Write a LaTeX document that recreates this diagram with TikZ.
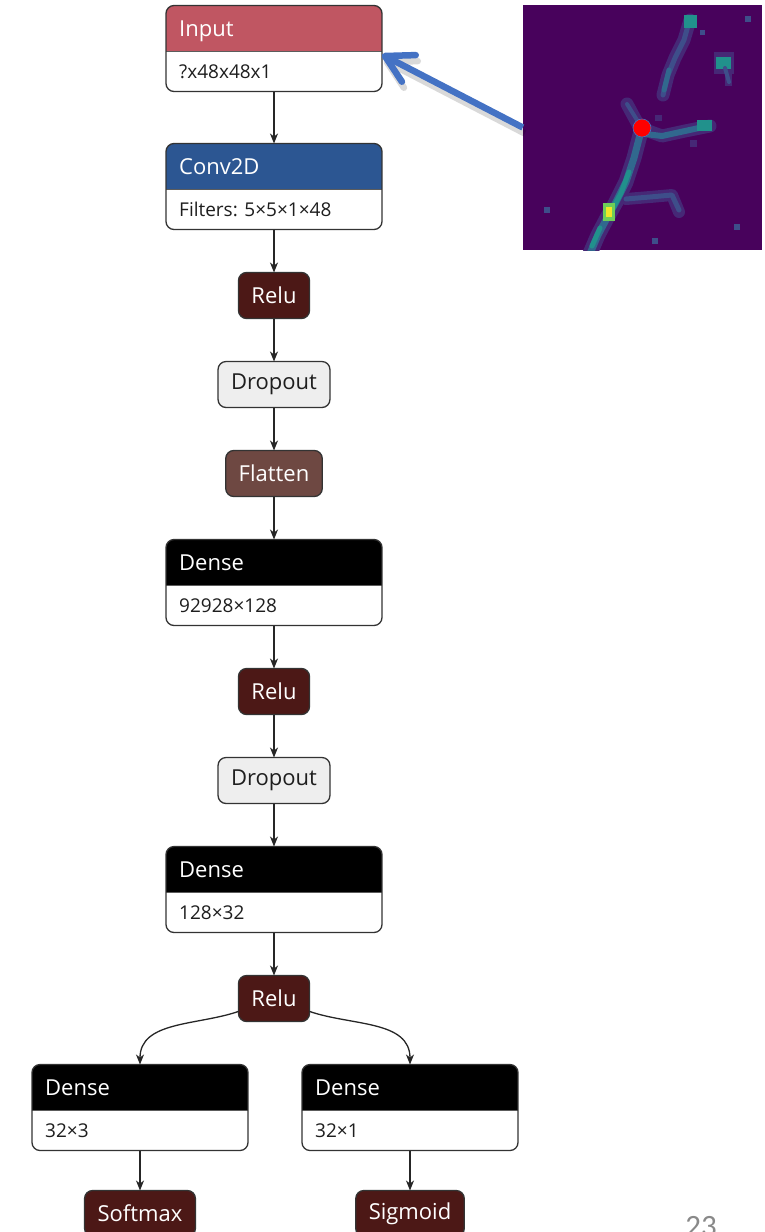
\documentclass[tikz,border=0pt]{standalone}
\usepackage{fontspec}
\setmainfont{Open Sans}
\newfontfamily\slidefont{Carlito}
\usetikzlibrary{arrows.meta,positioning}

\definecolor{inputred}{RGB}{192,86,98}
\definecolor{convblue}{RGB}{44,86,146}
\definecolor{relubrown}{RGB}{76,24,22}
\definecolor{flatbrown}{RGB}{110,72,66}
\definecolor{dropgray}{RGB}{238,238,238}
\definecolor{edgegray}{RGB}{51,51,51}
\definecolor{textgray}{RGB}{30,30,30}
\definecolor{pointerblue}{RGB}{68,114,196}
\definecolor{numgray}{RGB}{137,137,137}
% viridis shades for the feature map
\definecolor{vbg}{RGB}{72,2,92}
\definecolor{vhalo}{RGB}{70,40,118}
\definecolor{vdim}{RGB}{62,78,138}
\definecolor{vmid}{RGB}{49,104,142}
\definecolor{vteal}{RGB}{33,145,140}
\definecolor{vgreen}{RGB}{110,206,88}
\definecolor{vyellow}{RGB}{240,230,40}

\begin{document}
\begin{tikzpicture}[
    x=1pt, y=1pt,
    node distance=43pt,
    layer/.style={draw=edgegray, line width=1.3pt, rounded corners=8pt, fill=white,
                  minimum width=216pt, minimum height=86pt, inner sep=0pt, outer sep=0pt,
                  path picture={
                    \fill[#1, sharp corners] (path picture bounding box.north west) rectangle
                      ([yshift=-46pt]path picture bounding box.north east);
                    \draw[edgegray!80, line width=0.8pt, sharp corners]
                      ([yshift=-46pt]path picture bounding box.north west) --
                      ([yshift=-46pt]path picture bounding box.north east);}},
    head/.style={anchor=base west, inner sep=0pt, text=white,
                 font=\fontsize{22}{26}\selectfont},
    attr/.style={anchor=base west, inner sep=0pt, text=textgray,
                 font=\fontsize{19}{23}\selectfont},
    op/.style={draw=edgegray, line width=1.3pt, rounded corners=8pt, fill=#1,
               minimum height=46pt, inner xsep=13pt, inner ysep=0pt, outer sep=0pt,
               text=white, font=\fontsize{22}{26}\selectfont},
    arr/.style={-{Stealth[length=10pt,width=8pt,inset=3pt]}, line width=1.3pt, draw=black!85},
    heat/.style={fill=vbg, minimum width=239pt, minimum height=245pt, inner sep=0pt},
    spot/.style={circle, fill=red, draw=pointerblue, line width=0.6pt,
                 minimum size=18pt, inner sep=0pt},
    strand/.style={line width=#1, line cap=round, line join=round},
    pointer/.style={-{Straight Barb[length=27pt,width=30pt,round]}, line width=6.5pt,
                    draw=pointerblue},
    pagenum/.style={anchor=base, text=numgray, font=\slidefont\fontsize{31}{36}\selectfont}
]
\useasboundingbox (0,0) rectangle (765,-1232);

% --- main column ---
\node[layer=inputred] (input) at (274,-48.5) {};
\node[layer=convblue, below=52pt of input] (conv) {};
\node[op=relubrown, below=of conv] (relu1) {Relu};
\node[op=dropgray, text=textgray, below=of relu1] (drop1) {Dropout};
\node[op=flatbrown, below=of drop1] (flat) {Flatten};
\node[layer=black, below=of flat] (dense1) {};
\node[op=relubrown, below=of dense1] (relu2) {Relu};
\node[op=dropgray, text=textgray, below=of relu2] (drop2) {Dropout};
\node[layer=black, below=of drop2] (dense2) {};
\node[op=relubrown, below=of dense2] (relu3) {Relu};

% --- the two heads ---
\node[layer=black, below=of relu3, xshift=-134pt] (dense3) {};
\node[layer=black, below=of relu3, xshift=136pt] (dense4) {};
\node[op=relubrown, below=40pt of dense3] (softmax) {Softmax};
\node[op=relubrown, below=40pt of dense4] (sigmoid) {Sigmoid};

% layer titles and shapes
\node[head] (input-h) at ([xshift=13pt,yshift=-31pt]input.north west) {Input};
\node[attr] (input-a) at ([xshift=13pt,yshift=-73pt]input.north west) {?x48x48x1};
\node[head] (conv-h) at ([xshift=13pt,yshift=-31pt]conv.north west) {Conv2D};
\node[attr] (conv-a) at ([xshift=13pt,yshift=-73pt]conv.north west) {Filters: 5×5×1×48};
\node[head] (dense1-h) at ([xshift=13pt,yshift=-31pt]dense1.north west) {Dense};
\node[attr] (dense1-a) at ([xshift=13pt,yshift=-73pt]dense1.north west) {92928×128};
\node[head] (dense2-h) at ([xshift=13pt,yshift=-31pt]dense2.north west) {Dense};
\node[attr] (dense2-a) at ([xshift=13pt,yshift=-73pt]dense2.north west) {128×32};
\node[head] (dense3-h) at ([xshift=13pt,yshift=-31pt]dense3.north west) {Dense};
\node[attr] (dense3-a) at ([xshift=13pt,yshift=-73pt]dense3.north west) {32×3};
\node[head] (dense4-h) at ([xshift=13pt,yshift=-31pt]dense4.north west) {Dense};
\node[attr] (dense4-a) at ([xshift=13pt,yshift=-73pt]dense4.north west) {32×1};

% arrows
\draw[arr] (input) -- (conv);
\draw[arr] (conv) -- (relu1);
\draw[arr] (relu1) -- (drop1);
\draw[arr] (drop1) -- (flat);
\draw[arr] (flat) -- (dense1);
\draw[arr] (dense1) -- (relu2);
\draw[arr] (relu2) -- (drop2);
\draw[arr] (drop2) -- (dense2);
\draw[arr] (dense2) -- (relu3);
\draw[arr] (relu3.200) to[out=199, in=90] (dense3.north);
\draw[arr] (relu3.340) to[out=-19, in=90] (dense4.north);
\draw[arr] (dense3) -- (softmax);
\draw[arr] (dense4) -- (sigmoid);

% --- sample input patch ---
\node[heat] (patch) at (642.5,-127.5) {};
\begin{scope}
  \clip (patch.south west) rectangle (patch.north east);
  % soft halo under the bright strands
  \draw[strand=13pt, vhalo] (690,-20) -- (684,-40) -- (675,-58) -- (668,-75) -- (663,-95);
  \draw[strand=13pt, vhalo] (627,-104) -- (640,-128) -- (662,-136) -- (685,-131) -- (710,-126);
  \draw[strand=15pt, vhalo] (640,-135) -- (634,-158) -- (626,-182) -- (616,-202)
      -- (607,-218) -- (598,-235) -- (589,-256);
  \draw[strand=12pt, vhalo] (626,-199) -- (650,-197) -- (672,-195) -- (679,-212);
  \fill[vhalo] (714,-52) rectangle (734,-74);
  \fill[vhalo] (725,-68) rectangle (732,-86);
  % upper branch and the two bright blobs
  \draw[strand=5pt, vdim] (689,-22) -- (684,-40) -- (675,-58) -- (668,-75) -- (663,-95);
  \draw[strand=5pt, vmid] (669,-70) -- (664,-90);
  \fill[vteal] (684,-15) rectangle (697,-28);
  \fill[vteal] (716,-57) rectangle (731,-69);
  \draw[strand=4pt, vdim] (725,-68) -- (729,-82);
  % side branch from the marked point
  \draw[strand=4pt, vdim] (627,-104) -- (637,-120);
  \draw[strand=6pt, vmid] (645,-134) -- (662,-136) -- (685,-131) -- (708,-126);
  \fill[vteal] (697,-120) rectangle (712,-131);
  % trunk towards the lower left
  \draw[strand=7pt, vmid] (640,-135) -- (634,-158) -- (626,-182) -- (616,-202)
      -- (607,-218) -- (598,-235) -- (589,-256);
  \draw[strand=5pt, vteal] (629,-172) -- (621,-193) -- (612,-210);
  \draw[strand=5pt, vteal] (600,-228) -- (592,-246);
  \draw[strand=5pt, vdim] (626,-199) -- (650,-197) -- (672,-195) -- (679,-210);
  \fill[vgreen] (603,-203) rectangle (615,-221);
  \fill[vyellow] (606,-207) rectangle (612,-217);
  % loose specks
  \fill[vdim] (544,-207) rectangle (550,-213);
  \fill[vdim] (734,-224) rectangle (740,-230);
  \fill[vdim] (700,-30) rectangle (705,-35);
  \fill[vdim] (652,-238) rectangle (658,-244);
  \fill[vdim] (745,-16) rectangle (751,-22);
  \fill[vhalo] (655,-115) rectangle (662,-121);
  \fill[vhalo] (690,-140) rectangle (697,-147);
\end{scope}
\node[spot] (mark) at (642,-128) {};

% pointer from the patch to the input layer
\draw[pointer, draw=black, opacity=0.15, transform canvas={shift={(2pt,-6pt)}}]
  (patch.west) -- ([yshift=-6pt]input.east);
\draw[pointer] (patch.west) -- ([yshift=-6pt]input.east);

% slide number
\node[pagenum] (slide) at (701,-1236) {23};

\end{tikzpicture}
\end{document}
